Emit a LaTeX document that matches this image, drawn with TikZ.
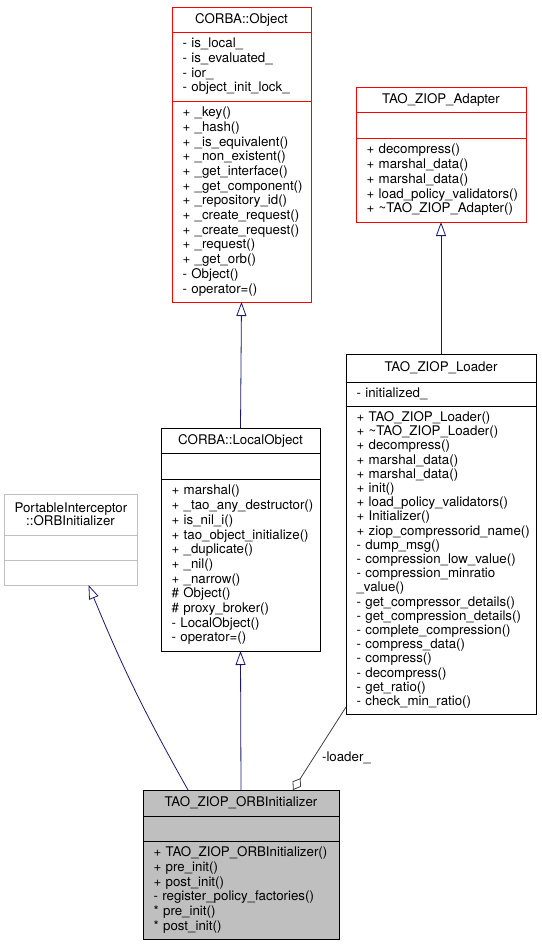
\documentclass[tikz,border=0pt]{standalone}
\usepackage{fontspec}
\setmainfont{TeX Gyre Heros}
\usetikzlibrary{arrows.meta}
\definecolor{edgeblue}{HTML}{191970}
\definecolor{edgegrey}{HTML}{404040}
\definecolor{boxgrey}{HTML}{BFBFBF}
\newcommand{\umlfont}{\fontsize{13.3}{14.7}\selectfont}

\begin{document}
\begin{tikzpicture}[x = 1pt, y = -1pt]
        \tikzset{
            ClassStyle/.style = {
                draw,
                anchor = north west,
                align = left,
                inner xsep = 10.5pt,
                inner ysep = 0pt,
                outer sep = 0pt,
                line width = 0.8pt,
                font = \umlfont},
            TitleStyle/.style = {ClassStyle, align = center},
            InheritStyle/.style = {
                draw = edgeblue,
                line width = 0.8pt,
                -{Triangle[open, length = 14pt, width = 10pt]}},
            UsageStyle/.style = {
                draw = edgegrey,
                line width = 0.8pt,
                -{Diamond[open, length = 14pt, width = 10pt]}},
            LabelStyle/.style = {
                anchor = west,
                inner sep = 0pt,
                xshift = 8pt,
                font = \umlfont}
                }
    \useasboundingbox (0,0) rectangle (541,947);
    % CORBA::Object
    \tikzset{ClassStyle/.append style = {draw = red}}
    \node[TitleStyle, text width = 118pt, minimum height = 25pt] (ObjT) at (172,7) {CORBA::Object};
    \node[ClassStyle, text width = 118pt, minimum height = 69pt] (ObjA) at (ObjT.south west)
        {-~is\_local\_\\-~is\_evaluated\_\\-~ior\_\\-~object\_init\_lock\_};
    \node[ClassStyle, text width = 118pt, minimum height = 201pt] (ObjM) at (ObjA.south west)
        {+~\_key()\\+~\_hash()\\+~\_is\_equivalent()\\+~\_non\_existent()\\+~\_get\_interface()\\
         +~\_get\_component()\\+~\_repository\_id()\\+~\_create\_request()\\+~\_create\_request()\\
         +~\_request()\\+~\_get\_orb()\\-~Object()\\-~operator=()};
    % TAO_ZIOP_Adapter
    \node[TitleStyle, text width = 149pt, minimum height = 25pt] (AdpT) at (356,87) {TAO\_ZIOP\_Adapter};
    \node[ClassStyle, text width = 149pt, minimum height = 26pt] (AdpA) at (AdpT.south west) {};
    \node[ClassStyle, text width = 149pt, minimum height = 84pt] (AdpM) at (AdpA.south west)
        {+~decompress()\\+~marshal\_data()\\+~marshal\_data()\\+~load\_policy\_validators()\\
         +~\textasciitilde TAO\_ZIOP\_Adapter()};
    % PortableInterceptor::ORBInitializer
    \tikzset{ClassStyle/.append style = {draw = boxgrey}}
    \node[TitleStyle, text width = 112pt, minimum height = 41pt,
          font = \fontsize{13.3}{13.3}\selectfont] (PrtT) at (4,494)
        {PortableInterceptor\\::ORBInitializer};
    \node[ClassStyle, text width = 112pt, minimum height = 25pt] (PrtA) at (PrtT.south west) {};
    \node[ClassStyle, text width = 112pt, minimum height = 25pt] (PrtM) at (PrtA.south west) {};
    % CORBA::LocalObject
    \tikzset{ClassStyle/.append style = {draw = black}}
    \node[TitleStyle, text width = 138pt, minimum height = 25pt] (LocT) at (161,428) {CORBA::LocalObject};
    \node[ClassStyle, text width = 138pt, minimum height = 26pt] (LocA) at (LocT.south west) {};
    \node[ClassStyle, text width = 138pt, minimum height = 172pt] (LocM) at (LocA.south west)
        {+~marshal()\\+~\_tao\_any\_destructor()\\+~is\_nil\_i()\\+~tao\_object\_initialize()\\
         +~\_duplicate()\\+~\_nil()\\+~\_narrow()\\\#~Object()\\\#~proxy\_broker()\\
         -~LocalObject()\\-~operator=()};
    % TAO_ZIOP_Loader
    \node[TitleStyle, text width = 169pt, minimum height = 28pt] (LdrT) at (346,354) {TAO\_ZIOP\_Loader};
    \node[ClassStyle, text width = 169pt, minimum height = 24pt] (LdrA) at (LdrT.south west) {-~initialized\_};
    \node[ClassStyle, text width = 169pt, minimum height = 308pt,
          font = \fontsize{13.3}{14.2}\selectfont] (LdrM) at (LdrA.south west)
        {+~TAO\_ZIOP\_Loader()\\+~\textasciitilde TAO\_ZIOP\_Loader()\\+~decompress()\\
         +~marshal\_data()\\+~marshal\_data()\\+~init()\\+~load\_policy\_validators()\\
         +~Initializer()\\+~ziop\_compressorid\_name()\\-~dump\_msg()\\-~compression\_low\_value()\\
         -~compression\_minratio\\\_value()\\-~get\_compressor\_details()\\
         -~get\_compression\_details()\\-~complete\_compression()\\-~compress\_data()\\
         -~compress()\\-~decompress()\\-~get\_ratio()\\-~check\_min\_ratio()};
    % TAO_ZIOP_ORBInitializer
    \tikzset{ClassStyle/.append style = {fill = boxgrey}}
    \node[TitleStyle, text width = 175pt, minimum height = 26pt] (OriT) at (143,790) {TAO\_ZIOP\_ORBInitializer};
    \node[ClassStyle, text width = 175pt, minimum height = 25pt] (OriA) at (OriT.south west) {};
    \node[ClassStyle, text width = 175pt, minimum height = 98pt] (OriM) at (OriA.south west)
        {+~TAO\_ZIOP\_ORBInitializer()\\+~pre\_init()\\+~post\_init()\\
         -~register\_policy\_factories()\\{*}~pre\_init()\\{*}~post\_init()};
    % edges
    \draw[InheritStyle] (LocT.north) -- (ObjM.south);
    \draw[InheritStyle] (LdrT.north) -- (AdpM.south);
    \draw[InheritStyle] (OriT.north) -- (LocM.south);
    \draw[InheritStyle] ([xshift = 45pt]OriT.north west) to[bend left = 3.5] ([xshift = 18pt]PrtM.south);
    \draw[UsageStyle] ([yshift = 7pt]LdrM.south west)
        -- node[LabelStyle, pos = 0.61] {-loader\_} ([xshift = 150pt]OriT.north west);
    \end{tikzpicture}
\end{document}
